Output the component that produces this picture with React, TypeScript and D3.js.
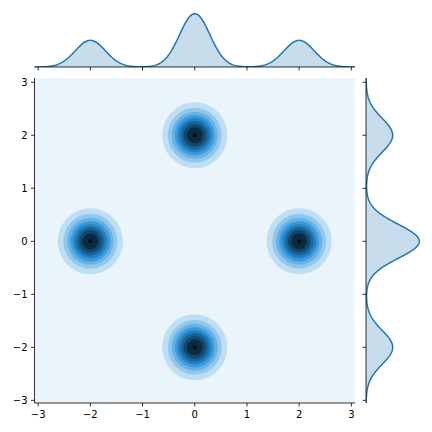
import React from 'react';
import * as d3 from 'd3';

// ---- data ----
const blobX = [0, -2, 2, 0];
const blobY = [2, 0, 0, -2];
const blobWeight = [0.25, 0.25, 0.25, 0.25];
const jointBandwidth = 0.296;

const margXCenters = [-2, 0, 2];
const margXWeights = [0.25, 0.5, 0.25];
const margXBandwidth = 0.29;

const margYCenters = [-2, 0, 2];
const margYWeights = [0.25, 0.5, 0.25];
const margYBandwidth = 0.32;

const contourLevels = [0, 0.05, 0.1, 0.15, 0.2, 0.25, 0.3, 0.35, 0.4, 0.45, 0.5];
const xTicks = [-3, -2, -1, 0, 1, 2, 3];
const yTicks = [-3, -2, -1, 0, 1, 2, 3];
const baseColor = '#1f77b4';

// ---- layout ----
const MAIN = { left: 34.5, right: 355, top: 78, bottom: 403 };
const TOPM = { top: 11, bottom: 67 };
const RIGHTM = { left: 366, right: 422 };
const FONT = 'DejaVu Sans';

// ---- colour helpers (seaborn-like dark-to-light cmap) ----
function rgbToHls(r: number, g: number, b: number) {
  const maxc = Math.max(r, g, b), minc = Math.min(r, g, b);
  const sumc = maxc + minc, rangec = maxc - minc;
  const l = sumc / 2;
  if (minc === maxc) return [0, l, 0];
  const s = l <= 0.5 ? rangec / sumc : rangec / (2 - sumc);
  const rc = (maxc - r) / rangec, gc = (maxc - g) / rangec, bc = (maxc - b) / rangec;
  let h;
  if (r === maxc) h = bc - gc;
  else if (g === maxc) h = 2 + rc - bc;
  else h = 4 + gc - rc;
  h = ((h / 6) % 1 + 1) % 1;
  return [h, l, s];
}
function vv(m1: number, m2: number, hue: number) {
  hue = ((hue % 1) + 1) % 1;
  if (hue < 1 / 6) return m1 + (m2 - m1) * hue * 6;
  if (hue < 0.5) return m2;
  if (hue < 2 / 3) return m1 + (m2 - m1) * (2 / 3 - hue) * 6;
  return m1;
}
function hlsToRgb(h: number, l: number, s: number) {
  if (s === 0) return [l, l, l];
  const m2 = l <= 0.5 ? l * (1 + s) : l + s - l * s;
  const m1 = 2 * l - m2;
  return [vv(m1, m2, h + 1 / 3), vv(m1, m2, h), vv(m1, m2, h - 1 / 3)];
}
const bc = d3.rgb(baseColor);
const [bh, , bs] = rgbToHls(bc.r / 255, bc.g / 255, bc.b / 255);
const paletteStops = d3.range(12).map((i) => hlsToRgb(bh, 1 - i / 11, bs));
function cmap(t: number) {
  const p = Math.max(0, Math.min(1, t)) * 11;
  const i = Math.min(10, Math.floor(p));
  const f = p - i;
  const a = paletteStops[i], b = paletteStops[i + 1];
  const c = a.map((v, k) => Math.round(255 * (v + (b[k] - v) * f)));
  return `rgb(${c[0]},${c[1]},${c[2]})`;
}

// ---- scales ----
const xScale = d3.scaleLinear().domain([-3.07, 3.07]).range([MAIN.left, MAIN.right]);
const yScale = d3.scaleLinear().domain([-3.05, 3.08]).range([MAIN.bottom, MAIN.top]);

function jointDensity(x: number, y: number) {
  let s = 0;
  const h2 = jointBandwidth * jointBandwidth;
  for (let k = 0; k < blobX.length; k++) {
    const dx = x - blobX[k], dy = y - blobY[k];
    s += blobWeight[k] * Math.exp(-(dx * dx + dy * dy) / (2 * h2)) / (2 * Math.PI * h2);
  }
  return s;
}
function mix1d(v: number, centers: number[], weights: number[], bw: number) {
  let s = 0;
  for (let k = 0; k < centers.length; k++) {
    const d = (v - centers[k]) / bw;
    s += weights[k] * Math.exp(-0.5 * d * d) / (Math.sqrt(2 * Math.PI) * bw);
  }
  return s;
}

export default function App() {
  const nx = Math.ceil(MAIN.right - MAIN.left);
  const ny = Math.ceil(MAIN.bottom - MAIN.top);
  const values = new Float64Array(nx * ny);
  for (let j = 0; j < ny; j++) {
    const y = yScale.invert(MAIN.top + j + 0.5);
    for (let i = 0; i < nx; i++) {
      values[j * nx + i] = jointDensity(xScale.invert(MAIN.left + i + 0.5), y);
    }
  }
  const contours = d3.contours().size([nx, ny]).thresholds(contourLevels.slice(1, -1))(values as any);
  const toPix = d3.geoTransform({
    point(this: any, x: number, y: number) {
      this.stream.point(MAIN.left + x, MAIN.top + y);
    },
  });
  const geoPath = d3.geoPath(toPix);
  const nBands = contourLevels.length - 1;
  const bandColor = (i: number) => cmap((i + 0.5) / nBands);

  // marginals
  const xs = d3.range(0, 401).map((i) => -3.2 + (6.4 * i) / 400);
  const mx = xs.map((x) => ({ v: x, d: mix1d(x, margXCenters, margXWeights, margXBandwidth) }));
  const my = xs.map((y) => ({ v: y, d: mix1d(y, margYCenters, margYWeights, margYBandwidth) }));
  const topScale = d3.scaleLinear().domain([0, 1.05 * d3.max(mx, (d) => d.d)!]).range([TOPM.bottom, TOPM.top]);
  const rightScale = d3.scaleLinear().domain([0, 1.05 * d3.max(my, (d) => d.d)!]).range([RIGHTM.left, RIGHTM.right]);

  const topArea = d3.area<any>().x((d) => xScale(d.v)).y0(topScale(0)).y1((d) => topScale(d.d))(mx)!;
  const topLine = d3.line<any>().x((d) => xScale(d.v)).y((d) => topScale(d.d))(mx)!;
  const rightArea = d3.area<any>().y((d) => yScale(d.v)).x0(rightScale(0)).x1((d) => rightScale(d.d))(my)!;
  const rightLine = d3.line<any>().y((d) => yScale(d.v)).x((d) => rightScale(d.d))(my)!;

  const fmt = (v: number) => (v < 0 ? '\u2212' + Math.abs(v) : String(v));

  return (
    <svg width={432} height={432} style={{ position: 'absolute', left: 0, top: 0, background: '#fff' }}>
      <defs>
        <clipPath id="cmain">
          <rect x={MAIN.left} y={MAIN.top} width={MAIN.right - MAIN.left} height={MAIN.bottom - MAIN.top} />
        </clipPath>
        <clipPath id="ctop">
          <rect x={MAIN.left} y={TOPM.top} width={MAIN.right - MAIN.left} height={TOPM.bottom - TOPM.top} />
        </clipPath>
        <clipPath id="cright">
          <rect x={RIGHTM.left} y={MAIN.top} width={RIGHTM.right - RIGHTM.left} height={MAIN.bottom - MAIN.top} />
        </clipPath>
      </defs>

      {/* joint KDE */}
      <g clipPath="url(#cmain)">
        <rect x={MAIN.left} y={MAIN.top} width={MAIN.right - MAIN.left} height={MAIN.bottom - MAIN.top} fill={bandColor(0)} />
        {contours.map((c, i) => (
          <path key={i} d={geoPath(c as any) || ''} fill={bandColor(i + 1)} stroke="none" />
        ))}
      </g>

      {/* top marginal */}
      <g clipPath="url(#ctop)">
        <path d={topArea} fill={baseColor} fillOpacity={0.25} />
        <path d={topLine} fill="none" stroke={baseColor} strokeWidth={1.5} />
      </g>
      {/* right marginal */}
      <g clipPath="url(#cright)">
        <path d={rightArea} fill={baseColor} fillOpacity={0.25} />
        <path d={rightLine} fill="none" stroke={baseColor} strokeWidth={1.5} />
      </g>

      {/* spines */}
      <g stroke="#000" strokeWidth={0.8} fill="none">
        <line x1={MAIN.left} x2={MAIN.left} y1={MAIN.top} y2={MAIN.bottom} />
        <line x1={MAIN.left} x2={MAIN.right} y1={MAIN.bottom} y2={MAIN.bottom} />
        <line x1={MAIN.left} x2={MAIN.right} y1={TOPM.bottom} y2={TOPM.bottom} />
        <line x1={RIGHTM.left} x2={RIGHTM.left} y1={MAIN.top} y2={MAIN.bottom} />
        {xTicks.map((t) => (
          <g key={'xt' + t}>
            <line x1={xScale(t)} x2={xScale(t)} y1={MAIN.bottom} y2={MAIN.bottom + 3.5} />
            <line x1={xScale(t)} x2={xScale(t)} y1={TOPM.bottom} y2={TOPM.bottom + 3.5} />
          </g>
        ))}
        {yTicks.map((t) => (
          <g key={'yt' + t}>
            <line x1={MAIN.left - 3.5} x2={MAIN.left} y1={yScale(t)} y2={yScale(t)} />
            <line x1={RIGHTM.left - 3.5} x2={RIGHTM.left} y1={yScale(t)} y2={yScale(t)} />
          </g>
        ))}
      </g>

      {/* tick labels */}
      <g fontFamily={FONT} fontSize={10} fill="#000">
        {xTicks.map((t) => (
          <text key={'xl' + t} x={xScale(t)} y={MAIN.bottom + 15.3} textAnchor="middle">
            {fmt(t)}
          </text>
        ))}
        {yTicks.map((t) => (
          <text key={'yl' + t} x={MAIN.left - 7} y={yScale(t) + 3.6} textAnchor="end">
            {fmt(t)}
          </text>
        ))}
      </g>
    </svg>
  );
}
